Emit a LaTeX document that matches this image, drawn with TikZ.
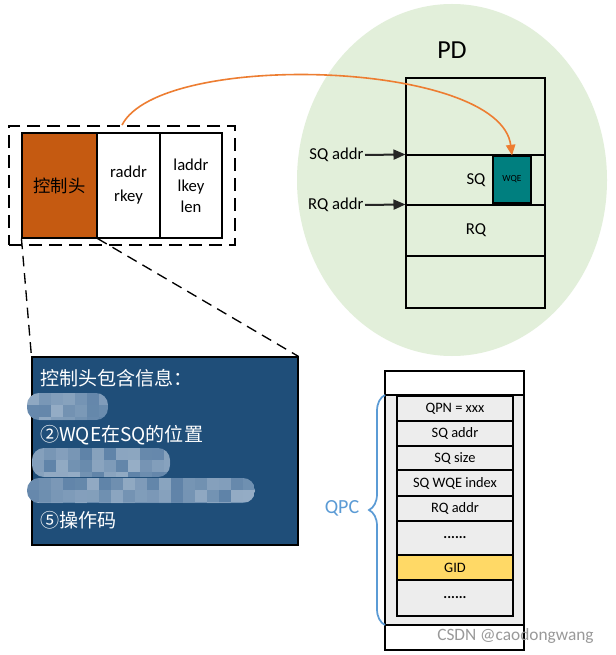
\documentclass[tikz,border=0pt]{standalone}
\usepackage{fontspec}
\setmainfont{Carlito}
\newfontfamily\cjk{Noto Sans CJK SC}
\usetikzlibrary{decorations.pathreplacing,arrows.meta}
\definecolor{ctrlorange}{HTML}{C55A11}
\definecolor{pdgreen}{HTML}{E2EFDA}
\definecolor{wqeteal}{HTML}{007F7F}
\definecolor{arroworange}{HTML}{ED7D31}
\definecolor{infoblue}{HTML}{1F4E79}
\definecolor{qgray}{HTML}{EDEDED}
\definecolor{gidyellow}{HTML}{FFD966}
\definecolor{qpcblue}{HTML}{5B9BD5}
\definecolor{blurbase}{HTML}{5F83A8}
\newcommand\bx[7]{\node[#6, inner sep=0pt, minimum width={(#4-#2)*0.75pt}, minimum height={(#5-#3)*0.75pt}] (#1) at ({(#2+#4)/2},{(#3+#5)/2}) {#7};}
\tikzset{
  cell/.style={draw=black, line width=0.8pt},
  lbl/.style={font=\fontsize{12.5}{15}\selectfont, inner sep=1pt},
  rowtxt/.style={font=\fontsize{10.8}{12}\selectfont},
  infotxt/.style={anchor=west, text=white, inner sep=0pt, font=\cjk\fontsize{14.3}{16}\selectfont},
  blackarrow/.style={line width=1.5pt, draw=black!85, -{Triangle[length=9pt,width=7.5pt]}},
  leader/.style={draw=black, line width=1pt, dash pattern=on 8pt off 5pt}
}
\begin{document}
\begin{tikzpicture}[x=0.75pt,y=-0.75pt]
\useasboundingbox (0,0) rectangle (615,655);
\fill[white] (0,0) rectangle (615,655);

% PD ellipse
\fill[pdgreen] (452,180) ellipse [x radius=155, y radius=176];
\node[font=\fontsize{19.5}{22}\selectfont] (pd) at (452,50) {PD};
\bx{pdtop}{406}{78}{545}{155}{cell}{}
\bx{pdsq}{406}{155}{545}{205}{cell}{}
\bx{pdrq}{406}{205}{545}{256}{cell}{}
\bx{pdbot}{406}{256}{545}{308}{cell}{}
\node[lbl] (sq) at (476,180) {SQ};
\node[lbl] (rq) at (476,230) {RQ};
\bx{wqe}{493}{156}{531}{203}{cell, fill=wqeteal, font=\fontsize{7}{8}\selectfont}{WQE}
\node[lbl, anchor=east] (sqaddr) at (365,155) {SQ addr};
\node[lbl, anchor=east] (rqaddr) at (365,205) {RQ addr};
\draw[blackarrow] (sqaddr.east) -- (pdsq.north west);
\draw[blackarrow] (rqaddr.east) -- (pdrq.north west);

% control header
\bx{dbox}{9}{126}{235}{245}{draw=black, line width=1.4pt, dash pattern=on 10pt off 5pt}{}
\bx{ctrl}{22}{133}{97}{238}{cell, fill=ctrlorange, font=\cjk\fontsize{13}{15}\selectfont}{控制头}
\bx{raddr}{97}{133}{160}{238}{cell, fill=white, align=center, font=\fontsize{12.5}{18}\selectfont}{raddr\\rkey}
\bx{laddr}{160}{133}{222}{238}{cell, fill=white, align=center, font=\fontsize{12.5}{15.7}\selectfont}{laddr\\lkey\\len}

% orange arrow
\draw[arroworange, line width=1.2pt, -{Triangle[length=8pt,width=7pt]}] (dbox.north) .. controls (160,50) and (500,60) .. (wqe.north);

% info box
\bx{info}{32}{357}{298}{545}{draw=black, line width=0.8pt, fill=infoblue}{}
\draw[leader] (ctrl.south west) -- (info.north west);
\draw[leader] (ctrl.south east) -- (info.north east);
\node[infotxt] (i1) at (40,378) {控制头包含信息：};
\node[infotxt] (i2) at (40,435) {②WQE在SQ的位置};
\node[infotxt] (i5) at (40,520) {⑤操作码};
% blurred lines
\pgfmathsetseed{7}
\foreach \xa/\ya/\xb/\yb in {27/393/108/420, 32/448/170/477, 27/478/255/503}{
  \begin{scope}
    \clip[rounded corners=9pt] (\xa,\ya) rectangle (\xb,\yb);
    \fill[blurbase] (\xa,\ya) rectangle (\xb,\yb);
    \foreach \cx in {0,12,...,228}{
      \foreach \cy in {0,12,24}{
        \pgfmathsetmacro{\rr}{rnd*0.35}
        \fill[white, opacity=\rr] (\xa+\cx,\ya+\cy) rectangle ++(12,12);
      }
    }
  \end{scope}
}

% QPC
\bx{qouter}{385}{371}{524}{650}{cell}{}
\bx{qgrayr}{385}{395}{524}{625}{cell, fill=qgray}{}
\bx{r1}{397}{396}{513}{421}{cell, fill=qgray, rowtxt}{QPN = xxx}
\bx{r2}{397}{421}{513}{446}{cell, fill=qgray, rowtxt}{SQ addr}
\bx{r3}{397}{446}{513}{470}{cell, fill=qgray, rowtxt}{SQ size}
\bx{r4}{397}{470}{513}{496}{cell, fill=qgray, rowtxt}{SQ WQE index}
\bx{r5}{397}{496}{513}{521}{cell, fill=qgray, rowtxt}{RQ addr}
\bx{r6}{397}{521}{513}{555}{cell, fill=qgray, rowtxt}{\textbf{......}}
\bx{r7}{397}{555}{513}{580}{cell, fill=gidyellow, rowtxt}{GID}
\bx{r8}{397}{580}{513}{616}{cell, fill=qgray, rowtxt}{\textbf{......}}
\draw[line width=1.3pt] (r1.south west) -- (r1.south east);
\coordinate (bt) at (385,625);
\coordinate (bb) at (385,395);
\draw[qpcblue, line width=1.3pt, decorate, decoration={brace, amplitude=12pt}] (bt) -- (bb);
\node[text=qpcblue, font=\fontsize{15}{17}\selectfont] (qpc) at (342,508) {QPC};

\node[text=black!40, font=\fontsize{13}{15}\selectfont, anchor=west, inner sep=0pt] (wm) at (437,636) {CSDN @caodongwang};
\end{tikzpicture}
\end{document}
